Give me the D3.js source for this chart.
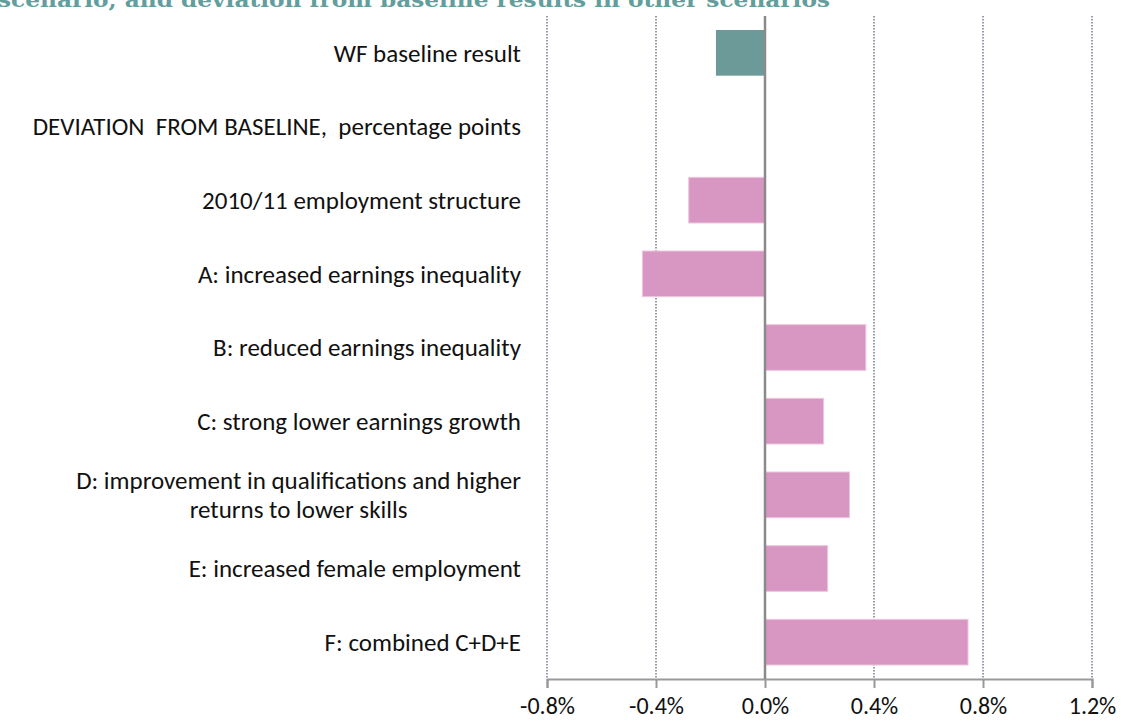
<!DOCTYPE html>
<html>
<head>
<meta charset="utf-8">
<script src="https://cdn.jsdelivr.net/npm/d3@7"></script>
<style>
  body { margin: 0; background: #fff; }
  svg { display: block; }
</style>
</head>
<body>
<svg width="1122" height="724"></svg>
<script>
// chart data
var categories = [
  "WF baseline result",
  "DEVIATION  FROM BASELINE,  percentage points",
  "2010/11 employment structure",
  "A: increased earnings inequality",
  "B: reduced earnings inequality",
  "C: strong lower earnings growth",
  "D: improvement in qualifications and higher|returns to lower skills",
  "E: increased female employment",
  "F: combined C+D+E"
];
var values = [-0.18, null, -0.28, -0.45, 0.37, 0.215, 0.31, 0.23, 0.745];
var barKinds = ["base", null, "dev", "dev", "dev", "dev", "dev", "dev", "dev"];
var tickValues = [-0.8, -0.4, 0.0, 0.4, 0.8, 1.2];
var titleText = "scenario, and deviation from baseline results in other scenarios";

var svg = d3.select("svg"),
    width = +svg.attr("width"),
    height = +svg.attr("height");

var margin = {top: 16, right: 30, bottom: 45, left: 547};

var x = d3.scaleLinear()
    .domain([-0.8, 1.2])
    .range([547, 1092]);

var y = d3.scaleBand()
    .domain(categories)
    .range([margin.top, 679])
    .paddingInner(0.38)
    .paddingOuter(0.19);

var colors = {base: "#6b9a98", dev: "#d897c2"};

// title, cut off at the top edge as in the source image
svg.append("text")
    .attr("x", -2)
    .attr("y", 7)
    .attr("textLength", 832)
    .attr("lengthAdjust", "spacingAndGlyphs")
    .attr("font-family", "'DejaVu Serif', serif")
    .attr("font-weight", "bold")
    .attr("font-size", 21)
    .attr("fill", "#629e9c")
    .text(titleText);

// dotted gridlines
svg.append("g")
    .attr("class", "grid")
  .selectAll("line")
  .data(tickValues.filter(function(d) { return d !== 0; }))
  .enter().append("line")
    .attr("x1", function(d) { return x(d); })
    .attr("x2", function(d) { return x(d); })
    .attr("y1", margin.top)
    .attr("y2", 679)
    .attr("stroke", "#737a90")
    .attr("stroke-width", 1.5)
    .attr("stroke-dasharray", "1.5,1.5");

// bars
svg.append("g")
    .attr("class", "bars")
  .selectAll("rect")
  .data(categories.map(function(c, i) { return {cat: c, v: values[i], kind: barKinds[i]}; })
        .filter(function(d) { return d.v !== null; }))
  .enter().append("rect")
    .attr("x", function(d) { return x(Math.min(0, d.v)); })
    .attr("y", function(d) { return y(d.cat); })
    .attr("width", function(d) { return Math.abs(x(d.v) - x(0)); })
    .attr("height", y.bandwidth())
    .attr("fill", function(d) { return colors[d.kind]; })
    .attr("stroke", function(d) { return d.kind === "dev" ? "#eec6df" : "none"; })
    .attr("stroke-width", 1);

// x axis
var xAxis = d3.axisBottom(x)
    .tickValues(tickValues)
    .tickSize(9)
    .tickPadding(9)
    .tickFormat(function(d) { return d.toFixed(1) + "%"; });

var gx = svg.append("g")
    .attr("transform", "translate(0,679)")
    .call(xAxis);
gx.select(".domain").attr("stroke", "#999").attr("stroke-width", 2);
gx.selectAll(".tick line").attr("stroke", "#999").attr("stroke-width", 2);
gx.selectAll(".tick text")
    .attr("font-family", "Carlito, Lato, sans-serif")
    .attr("font-size", 24)
    .attr("fill", "#111");

// zero line
svg.append("line")
    .attr("x1", x(0)).attr("x2", x(0))
    .attr("y1", margin.top).attr("y2", 679)
    .attr("stroke", "#8a8a8a")
    .attr("stroke-width", 2.5);

// category labels
var labelRight = 521;
var lab = svg.append("g")
    .attr("class", "labels")
    .attr("font-family", "Carlito, Lato, sans-serif")
    .attr("font-size", 25)
    .attr("fill", "#111");

categories.forEach(function(c) {
  var cy = y(c) + y.bandwidth() / 2;
  var lines = c.split("|");
  if (lines.length === 1) {
    lab.append("text")
        .attr("x", labelRight)
        .attr("y", cy)
        .attr("dy", "0.35em")
        .attr("text-anchor", "end")
        .style("white-space", "pre")
        .text(c);
  } else {
    var first = lab.append("text")
        .attr("x", labelRight)
        .attr("y", cy - 15)
        .attr("dy", "0.35em")
        .attr("text-anchor", "end")
        .text(lines[0]);
    var w = first.node().getComputedTextLength();
    lab.append("text")
        .attr("x", labelRight - w / 2)
        .attr("y", cy + 14)
        .attr("dy", "0.35em")
        .attr("text-anchor", "middle")
        .text(lines[1]);
  }
});
</script>
</body>
</html>
